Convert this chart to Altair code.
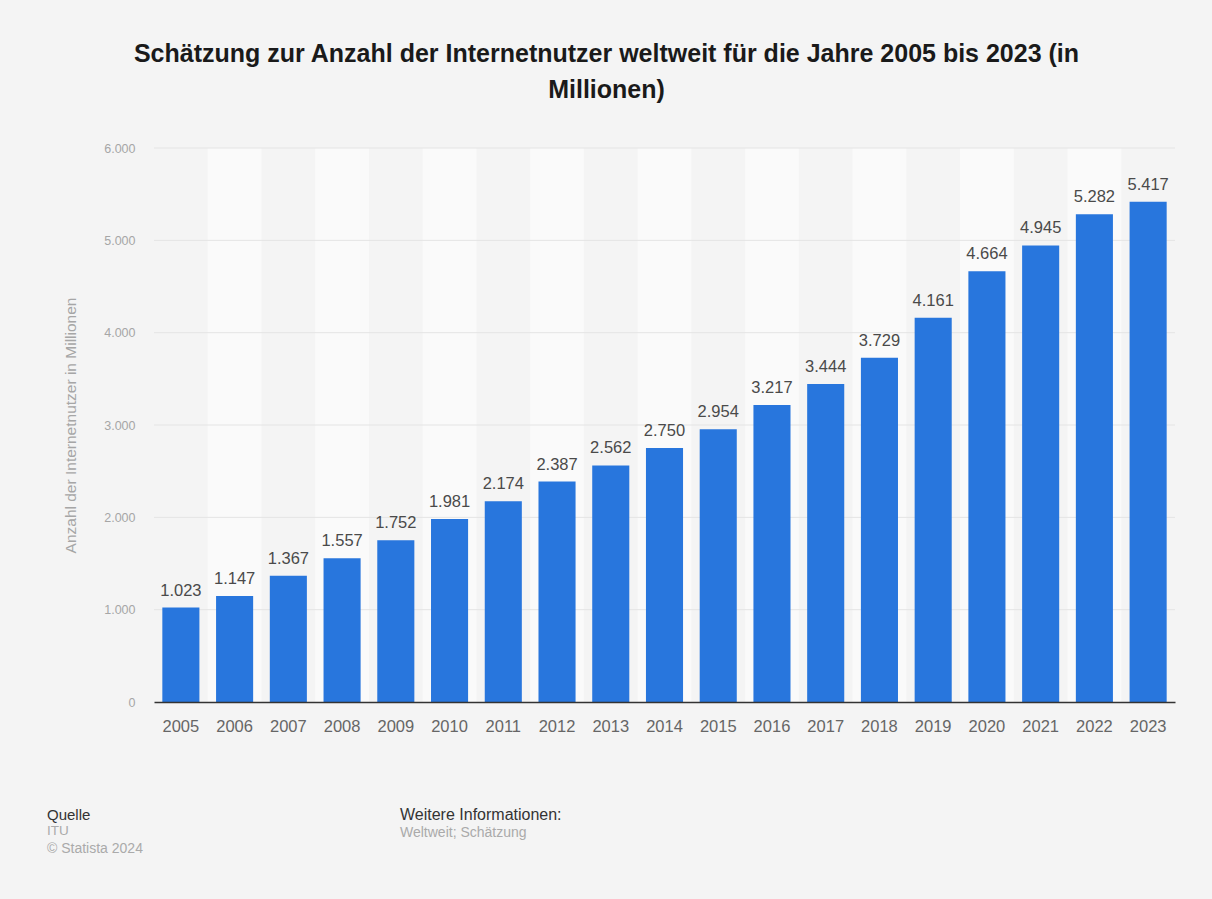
import altair as alt
import pandas as pd

years = [str(y) for y in range(2005, 2024)]
users = [1023, 1147, 1367, 1557, 1752, 1981, 2174, 2387, 2562, 2750,
         2954, 3217, 3444, 3729, 4161, 4664, 4945, 5282, 5417]
grid_values = [1000, 2000, 3000, 4000, 5000, 6000]
band_years = years[1::2]

title_lines = ["Schätzung zur Anzahl der Internetnutzer weltweit für die Jahre 2005 bis 2023 (in",
               "Millionen)"]
y_title = "Anzahl der Internetnutzer in Millionen"

df = pd.DataFrame({"Jahr": years, "Nutzer": users})
bands = pd.DataFrame({"Jahr": band_years})
grid = pd.DataFrame({"v": grid_values})

FONT = "Liberation Sans"
W, H = 1021, 554

band_layer = alt.Chart(bands).mark_rect(color="#fafafa").encode(
    x=alt.X("Jahr:N", scale=alt.Scale(domain=years, paddingInner=0, paddingOuter=0), axis=None)
)

grid_layer = alt.Chart(grid).mark_rule(color="#e4e4e4", strokeWidth=1).encode(
    y=alt.Y("v:Q")
)

bar_scale = alt.Scale(domain=years, paddingInner=0.31, paddingOuter=0.155)
xenc = alt.X("Jahr:N", scale=bar_scale,
             axis=alt.Axis(title=None, labelAngle=0, labelFont=FONT, labelFontSize=16.5,
                           labelColor="#666666", ticks=False, labelPadding=16,
                           domainColor="#333333", domainWidth=1.5, zindex=1))
yenc = alt.Y("Nutzer:Q", scale=alt.Scale(domain=[0, 6000], nice=False),
             axis=alt.Axis(title=y_title, values=[0] + grid_values, grid=False, domain=False,
                           ticks=False, labelPadding=19, labelFont=FONT, labelFontSize=12.5,
                           labelColor="#a6a6a6",
                           labelExpr="replace(format(datum.value, ','), ',', '.')",
                           titleFont=FONT, titleFontSize=15.5, titleFontWeight="normal",
                           titleColor="#a6a6a6", titleX=-84, titleY=H / 2, titleAngle=-90,
                           titleAlign="center", titleBaseline="middle"))

bars = alt.Chart(df).mark_bar(color="#2876dd").encode(x=xenc, y=yenc)

labels = alt.Chart(df).transform_calculate(
    lbl="replace(format(datum.Nutzer, ','), ',', '.')"
).mark_text(font=FONT, fontSize=16.5, color="#4a4a4a", baseline="bottom", dy=-9).encode(
    x=alt.X("Jahr:N", scale=bar_scale, axis=None), y=alt.Y("Nutzer:Q"), text="lbl:N"
)

def note(txt, x, y, color, size, weight="normal"):
    return alt.Chart(alt.Data(values=[{}])).mark_text(
        font=FONT, fontSize=size, color=color, align="left", baseline="middle", fontWeight=weight
    ).encode(x=alt.value(x), y=alt.value(y), text=alt.value(txt))

footer = (
    note("Quelle", -107, 667, "#333333", 15)
    + note("ITU", -107, 683, "#aaaaaa", 13.5)
    + note("© Statista 2024", -107, 701, "#aaaaaa", 14)
    + note("Weitere Informationen:", 246, 667, "#333333", 16)
    + note("Weltweit; Schätzung", 246, 685, "#aaaaaa", 14)
)

chart = alt.layer(band_layer, grid_layer, bars, labels, footer).resolve_scale(
    x="independent"
).properties(
    width=W, height=H,
    autosize=alt.AutoSizeParams(type="none"),
    padding={"left": 154, "top": 148, "right": 37, "bottom": 197},
    background="#f4f4f4",
    title=alt.TitleParams(text=title_lines, font=FONT, fontSize=25, fontWeight="bold",
                          color="#1a1a1a", anchor="middle", dx=-58, lineHeight=36, offset=39),
).configure_view(stroke=None)

chart.save("out.html", embed_options={"renderer": "svg", "actions": False})
